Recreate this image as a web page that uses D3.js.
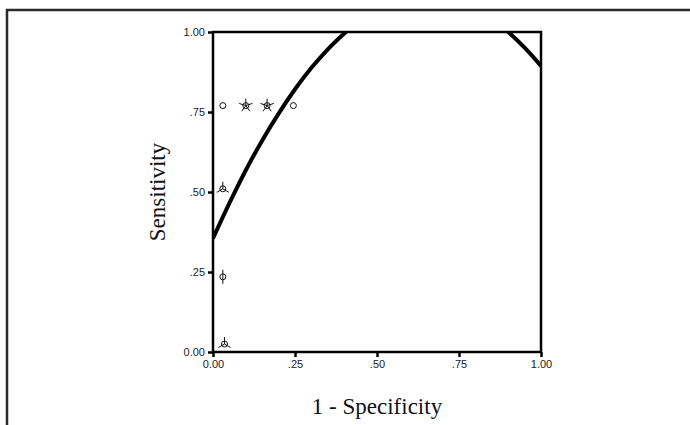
<!DOCTYPE html>
<html>

<head>
    <meta charset="utf-8" />
    <title>ROC</title>
    <script src="https://d3js.org/d3.v7.min.js"></script>
    <style>
        body,
        html {
            margin: 0;
            padding: 0;
            background: #fff;
            overflow: hidden;
        }

        .tick-label {
            font-family: "Liberation Sans", Arial, sans-serif;
            font-size: 11px;
            fill: #222;
        }

        .axis-title {
            font-family: "Liberation Serif", "Times New Roman", serif;
            font-size: 23px;
            fill: #111;
        }
    </style>
</head>

<body>
    <div id="chart"></div>
    <script>
        // tick values and labels
        const ticks = [0, 0.25, 0.5, 0.75, 1];
        const tickLabels = ["0.00", ".25", ".50", ".75", "1.00"];

        // observed points (1 - specificity, sensitivity) and number of sunflower petals
        const pointX = [0.03, 0.10, 0.165, 0.245, 0.03, 0.03, 0.035];
        const pointY = [0.77, 0.77, 0.77, 0.77, 0.51, 0.235, 0.025];
        const petals = [0, 5, 5, 0, 3, 2, 3];

        // fitted curve (two visible pieces)
        const curveX1 = [0, 0.05, 0.1, 0.15, 0.2, 0.25, 0.3, 0.35, 0.405, 0.45];
        const curveY1 = [0.355, 0.465, 0.568, 0.661, 0.745, 0.821, 0.888, 0.946, 1.0, 1.04];
        const curveX2 = [0.85, 0.9, 0.95, 1.0];
        const curveY2 = [1.04, 1.0, 0.951, 0.894];

        const width = 690, height = 425;
        const svg = d3.select("#chart").append("svg")
            .attr("width", width)
            .attr("height", height);

        // outer frame (right and bottom edges are cut off)
        svg.append("rect")
            .attr("x", 7).attr("y", 10)
            .attr("width", 720).attr("height", 500)
            .attr("fill", "none")
            .attr("stroke", "#2a2a2a")
            .attr("stroke-width", 2.5);

        const x = d3.scaleLinear().domain([0, 1]).range([213, 541]);
        const y = d3.scaleLinear().domain([0, 1]).range([352, 32]);

        svg.append("defs").append("clipPath")
            .attr("id", "plotClip")
            .append("rect")
            .attr("x", x(0)).attr("y", y(1))
            .attr("width", x(1) - x(0)).attr("height", y(0) - y(1));

        // axes
        const xAxis = d3.axisBottom(x)
            .tickValues(ticks)
            .tickFormat((d, i) => tickLabels[i])
            .tickSize(5)
            .tickPadding(3);
        const yAxis = d3.axisLeft(y)
            .tickValues(ticks)
            .tickFormat((d, i) => tickLabels[i])
            .tickSize(5)
            .tickPadding(3);

        const gx = svg.append("g").attr("transform", `translate(0,${y(0)})`).call(xAxis);
        const gy = svg.append("g").attr("transform", `translate(${x(0)},0)`).call(yAxis);
        [gx, gy].forEach(g => {
            g.select(".domain").remove();
            g.selectAll(".tick line").attr("stroke", "#000").attr("stroke-width", 2.5);
            g.selectAll(".tick text").attr("class", "tick-label");
        });

        // plot frame
        svg.append("rect")
            .attr("x", x(0)).attr("y", y(1))
            .attr("width", x(1) - x(0)).attr("height", y(0) - y(1))
            .attr("fill", "none")
            .attr("stroke", "#000")
            .attr("stroke-width", 2.5);

        // fitted curve
        const line = d3.line()
            .x(d => x(d[0]))
            .y(d => y(d[1]))
            .curve(d3.curveMonotoneX);

        const plot = svg.append("g").attr("clip-path", "url(#plotClip)");
        [[curveX1, curveY1], [curveX2, curveY2]].forEach(([cx, cy]) => {
            plot.append("path")
                .datum(cx.map((v, i) => [v, cy[i]]))
                .attr("d", line)
                .attr("fill", "none")
                .attr("stroke", "#000")
                .attr("stroke-width", 4);
        });

        // sunflower markers
        const pts = pointX.map((v, i) => ({ x: v, y: pointY[i], n: petals[i] }));
        const marks = svg.append("g").selectAll("g")
            .data(pts)
            .enter().append("g")
            .attr("transform", d => `translate(${x(d.x)},${y(d.y)})`);

        marks.append("circle")
            .attr("r", 3)
            .attr("fill", "none")
            .attr("stroke", "#111")
            .attr("stroke-width", 1);

        marks.each(function (d) {
            const angles = d3.range(d.n).map(k => -Math.PI / 2 + k * 2 * Math.PI / d.n);
            d3.select(this).selectAll("line")
                .data(angles)
                .enter().append("line")
                .attr("x1", 0).attr("y1", 0)
                .attr("x2", a => 7 * Math.cos(a))
                .attr("y2", a => 7 * Math.sin(a))
                .attr("stroke", "#111")
                .attr("stroke-width", 1);
        });

        // axis titles
        svg.append("text")
            .attr("class", "axis-title")
            .attr("x", (x(0) + x(1)) / 2)
            .attr("y", 414)
            .attr("text-anchor", "middle")
            .text("1 - Specificity");

        svg.append("text")
            .attr("class", "axis-title")
            .attr("transform", `translate(165,${(y(0) + y(1)) / 2}) rotate(-90)`)
            .attr("text-anchor", "middle")
            .text("Sensitivity");
    </script>
</body>

</html>
